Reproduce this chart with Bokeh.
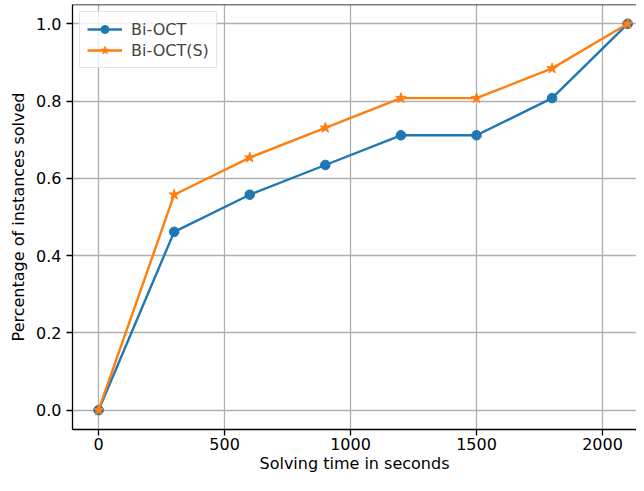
from bokeh.plotting import figure
from bokeh.models import FixedTicker, NumeralTickFormatter, Range1d, Span, Legend, LegendItem
from bokeh.embed import file_html
from bokeh.resources import INLINE

times = [0, 300, 600, 900, 1200, 1500, 1800, 2100]
bi_oct = [0.0, 0.4615, 0.5577, 0.6346, 0.7115, 0.7115, 0.8077, 1.0]
bi_oct_s = [0.0, 0.5577, 0.6538, 0.7308, 0.8077, 0.8077, 0.8846, 1.0]
x_ticks = [0, 500, 1000, 1500, 2000]
y_ticks = [0.0, 0.2, 0.4, 0.6, 0.8, 1.0]

FONT = "DejaVu Sans"
FS = "16px"

p = figure(width=636, height=475, output_backend="svg", toolbar_location=None,
           x_range=Range1d(-103.5, 2135), y_range=Range1d(-0.05, 1.05),
           min_border_left=72, min_border_right=0, min_border_top=4, min_border_bottom=10)
p.outline_line_color = None
p.background_fill_color = "white"

for ax in (p.xaxis[0], p.yaxis[0]):
    ax.axis_line_color = "black"
    ax.axis_line_width = 1.3
    ax.major_tick_out = 6
    ax.major_tick_in = 0
    ax.major_tick_line_width = 1.3
    ax.minor_tick_line_color = None
    ax.major_label_text_font = FONT
    ax.major_label_text_font_size = FS
    ax.major_label_text_color = "black"
    ax.axis_label_text_font = FONT
    ax.axis_label_text_font_size = FS
    ax.axis_label_text_font_style = "normal"
    ax.axis_label_text_color = "black"

p.xaxis.ticker = FixedTicker(ticks=x_ticks)
p.yaxis.ticker = FixedTicker(ticks=y_ticks)
p.yaxis.formatter = NumeralTickFormatter(format="0.0")
p.xaxis.major_label_standoff = 2
p.yaxis.major_label_standoff = 5
p.xaxis.axis_label = "Solving time in seconds"
p.yaxis.axis_label = "Percentage of instances solved"
p.xaxis.axis_label_standoff = 1
p.yaxis.axis_label_standoff = 5

p.xgrid.grid_line_color = "#b0b0b0"
p.ygrid.grid_line_color = "#b0b0b0"
p.xgrid.grid_line_width = 1.3
p.ygrid.grid_line_width = 1.3

p.add_layout(Span(location=p.y_range.end, dimension="width", line_color="black", line_width=1.3))

l1 = p.line(times, bi_oct, line_color="#1f77b4", line_width=2.4)
m1 = p.scatter(times, bi_oct, marker="circle", size=9.6, fill_color="#1f77b4", line_color="#1f77b4")
l2 = p.line(times, bi_oct_s, line_color="#ff7f0e", line_width=2.4)
m2 = p.scatter(times, bi_oct_s, marker="star", size=11, fill_color="#ff7f0e", line_color="#ff7f0e")

legend = Legend(items=[LegendItem(label="Bi-OCT", renderers=[l1, m1]),
                       LegendItem(label="Bi-OCT(S)", renderers=[l2, m2])],
                location="top_left", margin=7, padding=7, spacing=1,
                glyph_width=35, glyph_height=20, label_height=20, label_standoff=9,
                label_text_font=FONT, label_text_font_size=FS,
                border_line_color="#cccccc", border_line_width=1.3,
                background_fill_alpha=0.8)
p.add_layout(legend)

open("out.html", "w").write(file_html(p, INLINE))
